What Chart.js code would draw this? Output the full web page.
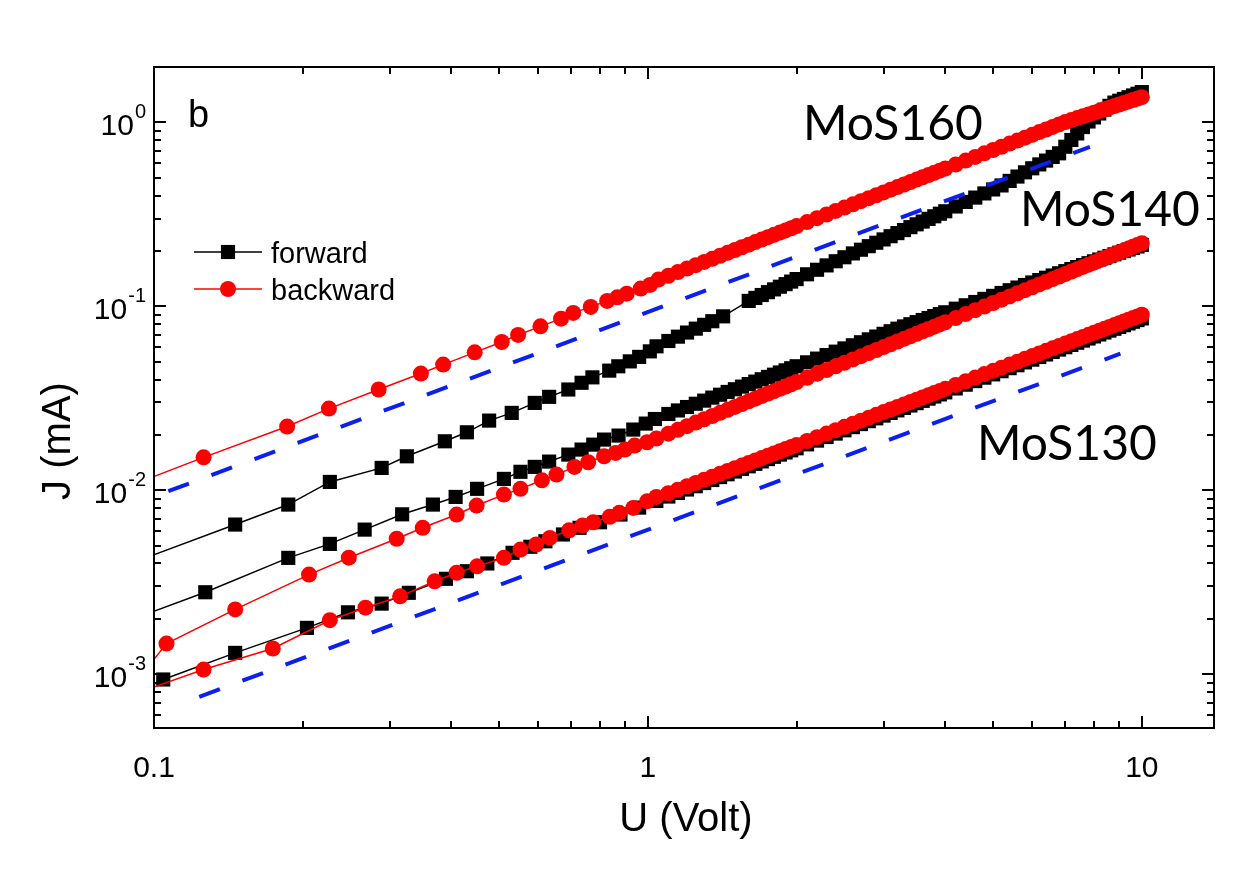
<!DOCTYPE html>
<html>
<head>
<meta charset="utf-8">
<title>J-U MoS</title>
<script src="https://cdn.jsdelivr.net/npm/chart.js@4.4.0/dist/chart.umd.min.js"></script>
<style>
  html, body { margin: 0; padding: 0; background: #fff; }
  #wrap { width: 1241px; height: 877px; }
</style>
</head>
<body>
<div id="wrap"><canvas id="chart" width="1241" height="877"></canvas></div>
<script>
// ---- measured sweeps (U in volt, J in mA) ----

// low-voltage points, each sample has its own voltages
const u160Fwd = [0.07, 0.146, 0.187, 0.227, 0.289, 0.325, 0.388, 0.43, 0.477, 0.53, 0.59, 0.631, 0.69, 0.734, 0.772, 0.835, 0.871, 0.919, 0.96, 1.009, 1.041, 1.1, 1.15, 1.2, 1.25, 1.3, 1.35, 1.42, 1.6];
const j160Fwd = [0.00312, 0.00651, 0.00836, 0.0111, 0.01323, 0.0153, 0.01846, 0.02066, 0.02392, 0.02634, 0.02985, 0.0322, 0.0353, 0.0384, 0.0411, 0.0447, 0.0472, 0.0502, 0.0531, 0.0569, 0.0606, 0.0648, 0.0684, 0.0720, 0.0756, 0.0793, 0.0830, 0.0882, 0.107];

const u160Bwd = [0.065, 0.126, 0.186, 0.226, 0.285, 0.347, 0.385, 0.446, 0.506, 0.546, 0.606, 0.667, 0.706, 0.766, 0.827, 0.867, 0.906, 0.967, 1.01, 1.05];
const j160Bwd = [0.0076, 0.0151, 0.0222, 0.0278, 0.0353, 0.0431, 0.0482, 0.0562, 0.0640, 0.0699, 0.0778, 0.0857, 0.0921, 0.0993, 0.1070, 0.1119, 0.1172, 0.1248, 0.1307, 0.1397];

const u140Fwd = [0.07, 0.127, 0.187, 0.227, 0.267, 0.318, 0.367, 0.408, 0.451, 0.511, 0.552, 0.59, 0.631, 0.69, 0.734, 0.775, 0.815, 0.872, 0.934, 0.99, 1.033];
const j140Fwd = [0.00154, 0.00279, 0.00429, 0.00511, 0.00611, 0.0074, 0.00836, 0.0092, 0.01018, 0.01153, 0.0126, 0.0134, 0.01432, 0.01563, 0.01664, 0.0177, 0.01886, 0.01983, 0.02138, 0.02304, 0.0244];

const u140Bwd = [0.08, 0.106, 0.146, 0.206, 0.248, 0.31, 0.35, 0.41, 0.45, 0.511, 0.552, 0.61, 0.653, 0.71, 0.757, 0.815, 0.86, 0.898, 0.94, 0.996, 1.04];
const j140Bwd = [0.000564, 0.001468, 0.00225, 0.00348, 0.0043, 0.00545, 0.00625, 0.00738, 0.00826, 0.00947, 0.01018, 0.01133, 0.01217, 0.0134, 0.0142, 0.0153, 0.01596, 0.01665, 0.0175, 0.01824, 0.0191];

const u130Fwd = [0.07, 0.1044, 0.146, 0.204, 0.247, 0.289, 0.328, 0.39, 0.43, 0.473, 0.532, 0.578, 0.62, 0.673, 0.727, 0.80, 0.88, 0.96, 1.04];
const j130Fwd = [0.00055, 0.000936, 0.001306, 0.001786, 0.00217, 0.00242, 0.00277, 0.0033, 0.00363, 0.0040, 0.00457, 0.00493, 0.00528, 0.00575, 0.00625, 0.0067, 0.00738, 0.00805, 0.00875];

const u130Bwd = [0.07, 0.126, 0.174, 0.227, 0.268, 0.315, 0.37, 0.41, 0.451, 0.511, 0.552, 0.594, 0.633, 0.693, 0.737, 0.775, 0.837, 0.875, 0.934, 0.996, 1.04];
const j130Bwd = [0.000607, 0.00106, 0.00138, 0.001966, 0.0023, 0.00265, 0.0032, 0.00356, 0.00386, 0.00429, 0.00476, 0.00507, 0.00551, 0.00606, 0.00643, 0.0067, 0.00717, 0.00754, 0.00802, 0.00871, 0.0092];

// high-voltage part of the sweep (dense points)
const uSweep = [1.1, 1.15, 1.2, 1.25, 1.3, 1.35, 1.4, 1.45, 1.5, 1.55, 1.6, 1.65, 1.7, 1.75, 1.8, 1.85, 1.9, 1.95, 2.0,
  2.1, 2.2, 2.3, 2.4, 2.5, 2.6, 2.7, 2.8, 2.9, 3.0, 3.1, 3.2, 3.3, 3.4, 3.5, 3.6, 3.7, 3.8, 3.9, 4.0,
  4.2, 4.4, 4.6, 4.8, 5.0, 5.2, 5.4, 5.6, 5.8, 6.0, 6.2, 6.4, 6.6, 6.8, 7.0, 7.2, 7.4, 7.6, 7.8, 8.0,
  8.2, 8.4, 8.6, 8.8, 9.0, 9.2, 9.4, 9.6, 9.8, 10.0];

const j160FwdHi = [0.1111, 0.1152, 0.1194, 0.1236, 0.1278, 0.1320, 0.1363, 0.1406,
  0.1493, 0.1580, 0.1669, 0.1758, 0.1848, 0.1939, 0.2031, 0.2123, 0.2216, 0.2310, 0.2405, 0.2500, 0.2597, 0.2694, 0.2791, 0.2889, 0.2988, 0.3087, 0.3187, 0.3287,
  0.3489, 0.3694, 0.3901, 0.4109, 0.4319, 0.4541, 0.4806, 0.5075, 0.5350, 0.5628, 0.5909, 0.6198, 0.6490, 0.6789, 0.7372, 0.8023, 0.8710, 0.9434, 1.0111, 1.0639,
  1.1179, 1.1734, 1.2300, 1.2809, 1.3110, 1.3406, 1.3703, 1.4006, 1.4305, 1.4605];

const j160BwdHi = [0.1466, 0.1535, 0.1604, 0.1674, 0.1743, 0.1813, 0.1884, 0.1954, 0.2024, 0.2094, 0.2164, 0.2234, 0.2305, 0.2375, 0.2446, 0.2517, 0.2587, 0.2658, 0.2729,
  0.2871, 0.3013, 0.3156, 0.3299, 0.3442, 0.3585, 0.3728, 0.3873, 0.4016, 0.4160, 0.4305, 0.4450, 0.4595, 0.4740, 0.4885, 0.5030, 0.5175, 0.5321, 0.5466, 0.5612,
  0.5903, 0.6196, 0.6490, 0.6784, 0.7078, 0.7372, 0.7669, 0.7964, 0.8260, 0.8555, 0.8853, 0.9150, 0.9447, 0.9745, 1.0044, 1.0303, 1.0552, 1.0799, 1.1046, 1.1292,
  1.1537, 1.1781, 1.2025, 1.2267, 1.2510, 1.2752, 1.2993, 1.3233, 1.3472, 1.3710];

const j140FwdHi = [0.02599, 0.02716, 0.02835, 0.02953, 0.03071, 0.03189, 0.03307, 0.03424, 0.03542, 0.03660, 0.03778, 0.03896, 0.04014, 0.04132, 0.04250, 0.04368, 0.04487, 0.04605, 0.04723,
  0.0496, 0.05196, 0.05433, 0.05669, 0.05905, 0.06141, 0.06377, 0.06614, 0.0685, 0.07086, 0.07322, 0.07558, 0.07775, 0.07992, 0.08207, 0.08423, 0.08638, 0.08853, 0.09067, 0.0928,
  0.09707, 0.10131, 0.10554, 0.10975, 0.11395, 0.11814, 0.12231, 0.12648, 0.13063, 0.13476, 0.13889, 0.143, 0.14712, 0.15121, 0.1553, 0.15937, 0.16344, 0.1675, 0.17155, 0.1756,
  0.17963, 0.18365, 0.18767, 0.19168, 0.19569, 0.19968, 0.20368, 0.20766, 0.21163, 0.21561];

const j140BwdHi = [0.02031, 0.02131, 0.02231, 0.02332, 0.02433, 0.02534, 0.02636, 0.02737, 0.02839, 0.02942, 0.03044, 0.03147, 0.03250, 0.03354, 0.03457, 0.03561, 0.03665, 0.03769, 0.03874,
  0.04084, 0.04294, 0.04505, 0.04717, 0.04930, 0.05143, 0.05357, 0.05572, 0.05787, 0.06003, 0.06219, 0.06436, 0.06653, 0.06871, 0.0709, 0.07309, 0.07528, 0.07748, 0.07969, 0.0819,
  0.08633, 0.09078, 0.09524, 0.09972, 0.10422, 0.10872, 0.11325, 0.11778, 0.12233, 0.12690, 0.13147, 0.13606, 0.14065, 0.14526, 0.14988, 0.15451, 0.15915, 0.16380, 0.16846, 0.17313,
  0.17781, 0.1825, 0.1872, 0.1919, 0.19662, 0.20134, 0.20607, 0.21081, 0.21556, 0.22031];

const j130FwdHi = [0.009246, 0.00967, 0.010095, 0.01052, 0.010945, 0.01137, 0.011796, 0.012221, 0.012647, 0.013073, 0.013499, 0.013925, 0.014351, 0.014777, 0.015204, 0.01563, 0.016057, 0.016484, 0.016911,
  0.017765, 0.01862, 0.019474, 0.02033, 0.021186, 0.022042, 0.022898, 0.023755, 0.024612, 0.025469, 0.026327, 0.027185, 0.028043, 0.028901, 0.02976, 0.030619, 0.031478, 0.032338, 0.033197, 0.034057,
  0.035777, 0.037498, 0.03922, 0.040943, 0.042666, 0.04439, 0.046115, 0.04784, 0.049566, 0.051293, 0.05302, 0.054748, 0.056476, 0.058205, 0.059934, 0.061664, 0.063394, 0.065125, 0.066856, 0.068588,
  0.070319, 0.072051, 0.073784, 0.075518, 0.077251, 0.078985, 0.08072, 0.082455, 0.08419, 0.085926];

const j130BwdHi = [0.00963, 0.010073, 0.010517, 0.01096, 0.011405, 0.011849, 0.012293, 0.012738, 0.013183, 0.013627, 0.014073, 0.014518, 0.014964, 0.01541, 0.015855, 0.016301, 0.016748, 0.017194, 0.01764,
  0.018534, 0.019428, 0.020322, 0.021217, 0.022112, 0.023008, 0.023903, 0.0248, 0.025698, 0.026595, 0.027492, 0.028391, 0.029289, 0.030188, 0.031087, 0.031987, 0.032886, 0.033787, 0.034687, 0.035587,
  0.03739, 0.039192, 0.040997, 0.042802, 0.044608, 0.046416, 0.048223, 0.050032, 0.051842, 0.053652, 0.055463, 0.057276, 0.059088, 0.060901, 0.062715, 0.06453, 0.066344, 0.068161, 0.069977, 0.071793,
  0.073611, 0.07543, 0.077248, 0.079068, 0.080888, 0.082708, 0.084528, 0.08635, 0.088171, 0.089993];

// linear (J ~ U) guide lines
const uFit160 = [0.1069, 7.85];
const jFit160 = [0.00988, 0.735];
const uFit130 = [0.1235, 9.05];
const jFit130 = [0.000754, 0.0553];

// axes
const xTickValues = [0.1, 1, 10];
const xTickLabels = ['0.1', '1', '10'];
const yTickExponents = [-3, -2, -1, 0];
const tickMultipliers = [1, 2, 3, 4, 5, 6, 7, 8, 9];
const sampleNames = ['MoS160', 'MoS140', 'MoS130'];
const legendNames = ['forward', 'backward'];

const BLACK = '#000000';
const RED = '#ff0000';
const BLUE = '#0a1ff0';
const SANS = '"Liberation Sans", Arial, sans-serif';
const SQUARE_R = 10;
const CIRCLE_R = 8;

function pairs(us, js) {
  return us.map((u, i) => ({ x: u, y: js[i] }));
}

const fwd = {
  borderColor: BLACK, backgroundColor: BLACK, pointBackgroundColor: BLACK,
  pointStyle: 'rect', pointRadius: SQUARE_R, pointBorderWidth: 0,
  borderWidth: 1.5, showLine: true, clip: 0, order: 2
};
const bwd = {
  borderColor: RED, backgroundColor: RED, pointBackgroundColor: RED,
  pointStyle: 'circle', pointRadius: CIRCLE_R, pointBorderWidth: 0,
  borderWidth: 1.5, showLine: true, clip: 0, order: 1
};
const fit = {
  borderColor: BLUE, borderWidth: 4, borderDash: [22, 24], pointRadius: 0,
  showLine: true, clip: 0, order: 0
};

const datasets = [
  Object.assign({ label: 'MoS160 forward', data: pairs(u160Fwd, j160Fwd).concat(pairs(uSweep.slice(11), j160FwdHi)) }, fwd),
  Object.assign({ label: 'MoS140 forward', data: pairs(u140Fwd, j140Fwd).concat(pairs(uSweep, j140FwdHi)) }, fwd),
  Object.assign({ label: 'MoS130 forward', data: pairs(u130Fwd, j130Fwd).concat(pairs(uSweep, j130FwdHi)) }, fwd),
  Object.assign({ label: 'MoS160 backward', data: pairs(u160Bwd, j160Bwd).concat(pairs(uSweep, j160BwdHi)) }, bwd),
  Object.assign({ label: 'MoS140 backward', data: pairs(u140Bwd, j140Bwd).concat(pairs(uSweep, j140BwdHi)) }, bwd),
  Object.assign({ label: 'MoS130 backward', data: pairs(u130Bwd, j130Bwd).concat(pairs(uSweep, j130BwdHi)) }, bwd),
  Object.assign({ label: 'fit 160', data: pairs(uFit160, jFit160) }, fit),
  Object.assign({ label: 'fit 130', data: pairs(uFit130, jFit130) }, fit)
];

function logTicks(min, max) {
  const out = [];
  for (let e = Math.floor(Math.log10(min)); e <= Math.ceil(Math.log10(max)); e++) {
    for (const m of tickMultipliers) {
      const v = m * Math.pow(10, e);
      if (v >= min * 0.999 && v <= max * 1.001) out.push({ v: v, major: m === 1 });
    }
  }
  return out;
}

// frame with inward ticks on all four sides, labels and annotations
const framePlugin = {
  id: 'frame',
  afterDraw(chart) {
    const { ctx, chartArea: a, scales: { x, y } } = chart;
    ctx.save();
    ctx.strokeStyle = BLACK;
    ctx.fillStyle = BLACK;
    ctx.lineWidth = 2;
    ctx.strokeRect(a.left, a.top, a.right - a.left, a.bottom - a.top);

    ctx.beginPath();
    for (const t of logTicks(x.min, x.max)) {
      const px = Math.round(x.getPixelForValue(t.v));
      const len = t.major ? 12 : 7;
      ctx.moveTo(px, a.bottom); ctx.lineTo(px, a.bottom - len);
      ctx.moveTo(px, a.top); ctx.lineTo(px, a.top + len);
    }
    for (const t of logTicks(y.min, y.max)) {
      const py = Math.round(y.getPixelForValue(t.v));
      const len = t.major ? 12 : 7;
      ctx.moveTo(a.left, py); ctx.lineTo(a.left + len, py);
      ctx.moveTo(a.right, py); ctx.lineTo(a.right - len, py);
    }
    ctx.stroke();

    // x tick labels
    ctx.font = '30px ' + SANS;
    ctx.textAlign = 'center';
    ctx.textBaseline = 'alphabetic';
    xTickValues.forEach((v, i) => {
      ctx.fillText(xTickLabels[i], x.getPixelForValue(v), 777);
    });

    // y tick labels as 10^n
    const right = a.left - 8;
    for (const e of yTickExponents) {
      const py = y.getPixelForValue(Math.pow(10, e));
      ctx.font = '20px ' + SANS;
      const sup = String(e);
      const supW = ctx.measureText(sup).width;
      ctx.textAlign = 'left';
      ctx.fillText(sup, right - supW, py - 4);
      ctx.font = '30px ' + SANS;
      ctx.textAlign = 'right';
      ctx.fillText('10', right - supW - 1, py + 13);
    }

    // axis titles
    ctx.font = '40px ' + SANS;
    ctx.textAlign = 'center';
    ctx.fillText('U (Volt)', (a.left + a.right) / 2 + 2, 831);
    ctx.save();
    ctx.translate(70, 441);
    ctx.rotate(-Math.PI / 2);
    ctx.fillText('J (mA)', 0, 0);
    ctx.restore();

    // panel letter
    ctx.font = '38px ' + SANS;
    ctx.textAlign = 'left';
    ctx.fillText('b', 188, 127);

    // legend
    const rows = [
      { y: 252, color: BLACK, style: 'rect', r: SQUARE_R },
      { y: 289, color: RED, style: 'circle', r: CIRCLE_R }
    ];
    rows.forEach((row, i) => {
      ctx.strokeStyle = row.color;
      ctx.lineWidth = 1.5;
      ctx.beginPath();
      ctx.moveTo(194, row.y); ctx.lineTo(262, row.y);
      ctx.stroke();
      ctx.fillStyle = row.color;
      Chart.helpers.drawPoint(ctx, { pointStyle: row.style, radius: row.r, borderWidth: 0, rotation: 0 }, 228, row.y);
      ctx.fillStyle = BLACK;
      ctx.font = '29px ' + SANS;
      ctx.textAlign = 'left';
      ctx.fillText(legendNames[i], 271, row.y + 11);
    });

    // sample names
    ctx.font = '48px Lato, "Open Sans", sans-serif';
    ctx.textAlign = 'left';
    ctx.fillText(sampleNames[0], 803, 140);
    ctx.fillText(sampleNames[1], 1020, 226);
    ctx.fillText(sampleNames[2], 977, 460);
    ctx.restore();
  }
};

new Chart(document.getElementById('chart'), {
  type: 'scatter',
  data: { datasets: datasets },
  options: {
    responsive: false,
    animation: false,
    devicePixelRatio: 1,
    events: [],
    layout: { padding: { left: 154, right: 27, top: 67, bottom: 149 } },
    plugins: { legend: { display: false }, tooltip: { enabled: false } },
    elements: { line: { tension: 0 } },
    scales: {
      x: { type: 'logarithmic', min: 0.1, max: 14, display: false },
      y: { type: 'logarithmic', min: 5.1e-4, max: 2.0, display: false }
    }
  },
  plugins: [framePlugin]
});
</script>
</body>
</html>
